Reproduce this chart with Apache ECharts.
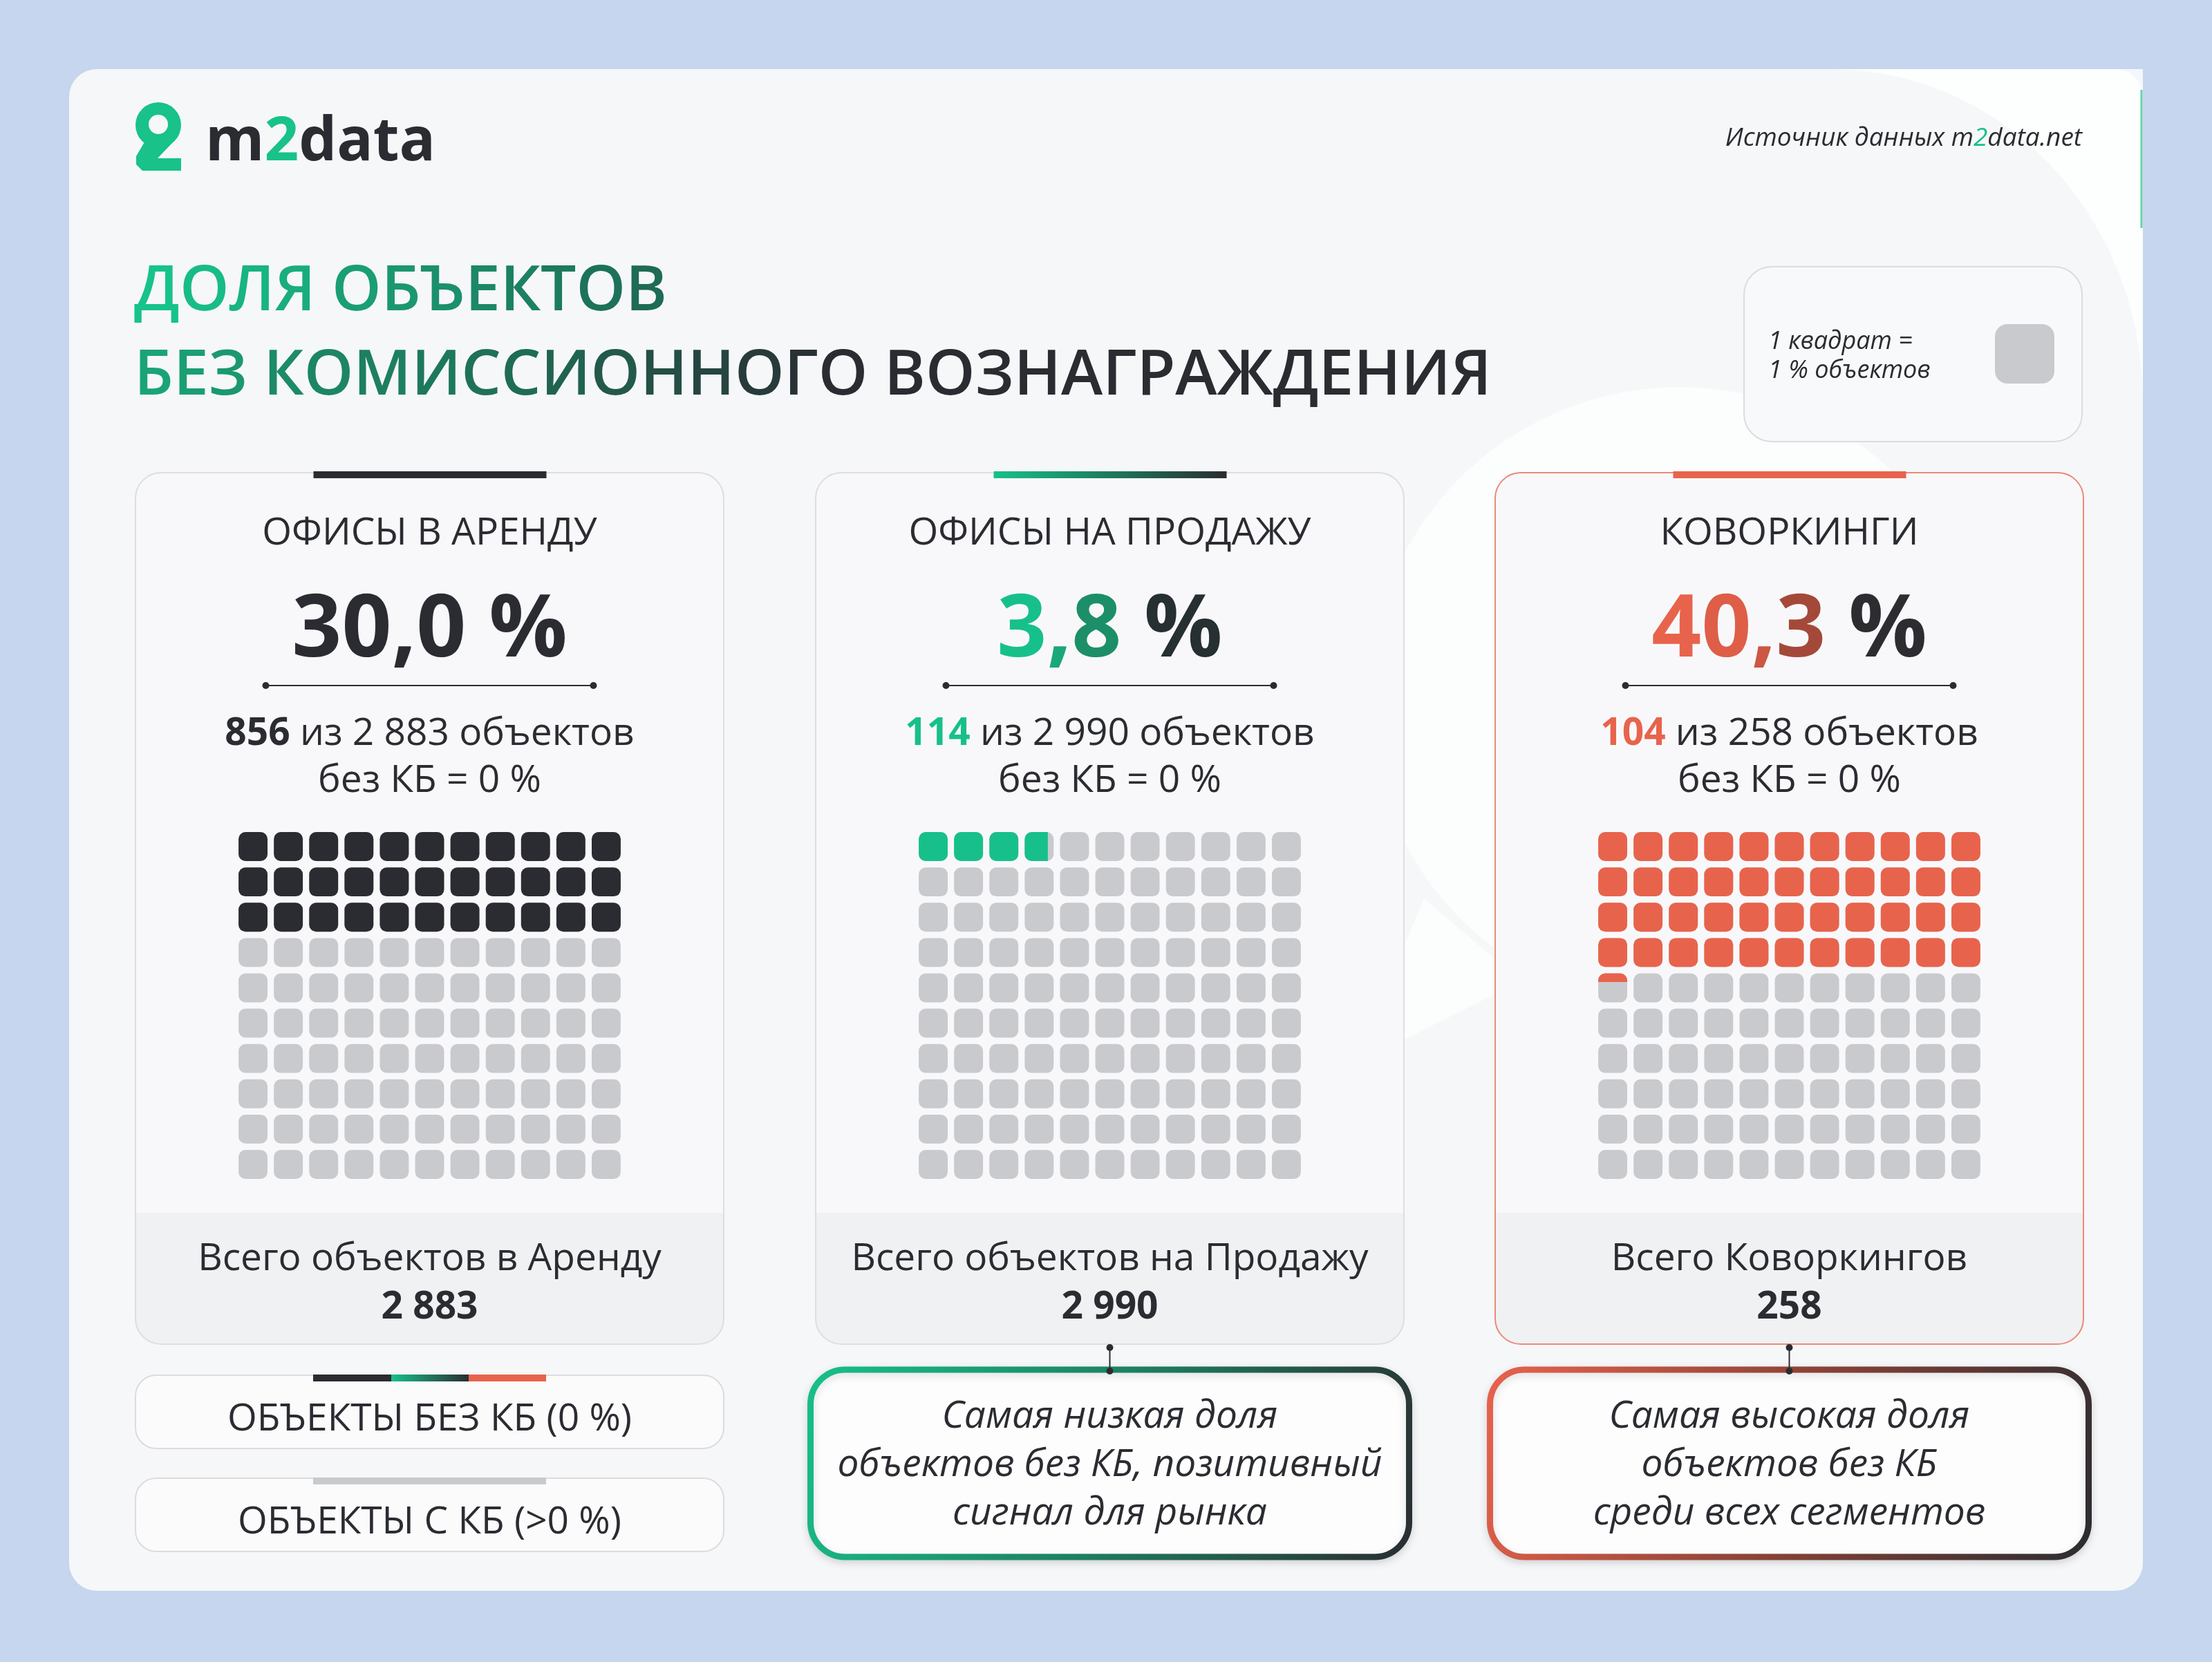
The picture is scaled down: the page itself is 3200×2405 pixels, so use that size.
<!DOCTYPE html>
<html>
<head>
<meta charset="utf-8">
<script src="https://cdn.jsdelivr.net/npm/echarts@6/dist/echarts.min.js"></script>
<style>
html,body{margin:0;padding:0;background:#c6d6ee;}
#chart{width:3200px;height:2405px;}
</style>
</head>
<body>
<div id="chart"></div>
<script>
// данные
var segments = ['ОФИСЫ В АРЕНДУ', 'ОФИСЫ НА ПРОДАЖУ', 'КОВОРКИНГИ'];
var sharePct = [30.0, 3.8, 40.3];
var freeCount = [856, 114, 104];
var totalCount = [2883, 2990, 258];
var totalLabels = ['Всего объектов в Аренду', 'Всего объектов на Продажу', 'Всего Коворкингов'];
// закрашенные квадраты (как на картинке: целые + доля последнего)
var fullSquares = [33, 3, 44];
var partFill = [0, 0.8, 0.3];
var partDir = [0, 0, 1]; // 0 - по горизонтали, 1 - по вертикали
var gridCols = ['1', '2', '3', '4', '5', '6', '7', '8', '9', '10', '11'];
var gridRows = ['1', '2', '3', '4', '5', '6', '7', '8', '9', '10'];
var noteLow = ['Самая низкая доля', 'объектов без КБ, позитивный', 'сигнал для рынка'];
var noteHigh = ['Самая высокая доля', 'объектов без КБ', 'среди всех сегментов'];
var legendLabels = ['ОБЪЕКТЫ БЕЗ КБ (0 %)', 'ОБЪЕКТЫ С КБ (>0 %)'];

var FONT = '"Open Sans", "Noto Sans", sans-serif';
var DARK = '#2a2c31', GREEN = '#17c08a', CORAL = '#e8634c', GREY = '#c9cace';
var accent = [DARK, GREEN, CORAL];

var panelX = [196, 1180, 2163];
var panelW = 851;
var panelTop = 684, panelBottom = 1945, bandTop = 1755;

function fmtInt(n) {
	return String(n).replace(/\B(?=(\d{3})+(?!\d))/g, ' ');
}
function fmtPct(v) {
	return v.toFixed(1).replace('.', ',') + ' %';
}
function grad(x2, y2, stops) {
	return new echarts.graphic.LinearGradient(0, 0, x2, y2, stops.map(function (c, i) {
		return {offset: i / (stops.length - 1), color: c};
	}));
}
function hex(c) {
	return [parseInt(c.substr(1, 2), 16), parseInt(c.substr(3, 2), 16), parseInt(c.substr(5, 2), 16)];
}
// цвет в точке t по списку [offset, color]
function mix(stops, t) {
	for (var k = 1; k < stops.length; k++) {
		if (t <= stops[k][0] || k === stops.length - 1) {
			var a = hex(stops[k - 1][1]), b = hex(stops[k][1]);
			var u = Math.max(0, Math.min(1, (t - stops[k - 1][0]) / (stops[k][0] - stops[k - 1][0])));
			return 'rgb(' + a.map(function (v, j) { return Math.round(v + (b[j] - v) * u); }).join(',') + ')';
		}
	}
}
// градиентный текст посимвольно (rich)
function gradText(str, stops, base) {
	var rich = {}, out = '';
	var n = str.length;
	for (var i = 0; i < n; i++) {
		var st = {};
		for (var key in base) st[key] = base[key];
		st.fill = mix(stops, n > 1 ? i / (n - 1) : 0);
		rich['c' + i] = st;
		out += '{c' + i + '|' + str.charAt(i) + '}';
	}
	return {text: out, rich: rich};
}

var chart = echarts.init(document.getElementById('chart'), null, {renderer: 'canvas'});

var g = [];

// карточка
g.push({type: 'rect', shape: {x: 100, y: 100, width: 3000, height: 2202, r: 40}, style: {fill: '#f6f7f9'}});
// фоновые белые формы
var corner = [[3100, 100]];
for (var t = 0; t <= 20; t++) {
	var a = t / 20;
	corner.push([2650 + 450 * Math.sin(a * Math.PI / 2), 100 + 480 * (1 - Math.cos(a * Math.PI / 2))]);
}
g.push({type: 'polygon', shape: {points: corner}, style: {fill: 'rgba(255,255,255,0.8)'}});
g.push({type: 'circle', shape: {cx: 2430, cy: 1010, r: 450}, style: {fill: 'rgba(255,255,255,0.7)'}});
g.push({type: 'polygon', shape: {points: [[2060, 1300], [1960, 1540], [2200, 1420]]}, style: {fill: 'rgba(255,255,255,0.7)'}});
g.push({type: 'line', shape: {x1: 3098, y1: 130, x2: 3098, y2: 330}, style: {stroke: '#5fd3a6', lineWidth: 3}});

// логотип
g.push({type: 'circle', shape: {cx: 229, cy: 181, r: 33}, style: {fill: '#18c289'}});
g.push({type: 'polygon', shape: {points: [[210, 204], [250, 206], [228, 229], [262, 229], [262, 247], [206, 247], [197, 238], [197, 226]]}, style: {fill: '#18c289'}});
g.push({type: 'circle', shape: {cx: 229, cy: 180, r: 14}, style: {fill: '#f6f7f9'}});
g.push({type: 'text', x: 297, y: 207, style: {
	text: '{d|m}{g|2}{d|data}', verticalAlign: 'middle',
	rich: {
		d: {fontFamily: FONT, fontWeight: 'bold', fontSize: 87, fill: DARK},
		g: {fontFamily: FONT, fontWeight: 'bold', fontSize: 87, fill: '#18c289'}
	}
}});
g.push({type: 'text', x: 3012, y: 200, style: {
	text: '{n|Источник данных m}{g|2}{n|data.net}', align: 'right', verticalAlign: 'middle',
	rich: {
		n: {fontFamily: FONT, fontStyle: 'italic', fontSize: 37, fill: DARK},
		g: {fontFamily: FONT, fontStyle: 'italic', fontSize: 37, fill: GREEN}
	}
}});

// заголовок
var titleBase = {fontFamily: FONT, fontWeight: 600, fontSize: 91};
var t1 = gradText('ДОЛЯ ОБЪЕКТОВ', [[0, '#17c38a'], [1, '#1e6b56']], titleBase);
var t2 = gradText('БЕЗ КОМИССИОННОГО ВОЗНАГРАЖДЕНИЯ', [[0, '#1aa475'], [0.3, '#1f6a55'], [0.5, DARK], [1, DARK]], titleBase);
g.push({type: 'text', x: 194, y: 423, style: {text: t1.text, rich: t1.rich, verticalAlign: 'middle'}});
g.push({type: 'text', x: 194, y: 545, style: {text: t2.text, rich: t2.rich, verticalAlign: 'middle'}});

// подсказка
g.push({type: 'rect', shape: {x: 2523, y: 386, width: 489, height: 253, r: 40}, style: {fill: '#f8f9fa', stroke: '#dcdcdf', lineWidth: 2}});
g.push({type: 'text', x: 2558, y: 495, style: {text: '1 квадрат =', fontFamily: FONT, fontStyle: 'italic', fontSize: 36, fill: DARK, verticalAlign: 'middle'}});
g.push({type: 'text', x: 2558, y: 537, style: {text: '1 % объектов', fontFamily: FONT, fontStyle: 'italic', fontSize: 36, fill: DARK, verticalAlign: 'middle'}});
g.push({type: 'rect', shape: {x: 2886, y: 469, width: 86, height: 86, r: 18}, style: {fill: GREY}});

// панели
var pctStops = [
	[[0, DARK], [1, DARK]],
	[[0, GREEN], [0.5, '#1c8f68'], [1, '#262f31']],
	[[0, CORAL], [0.35, '#d65a45'], [0.65, '#9a4538'], [1, '#2c2c31']]
];
var barFill = [DARK, grad(1, 0, [GREEN, '#1e7a5c', DARK]), CORAL];
var pctBase = {fontFamily: FONT, fontWeight: 'bold', fontSize: 126};
segments.forEach(function (name, i) {
	var x0 = panelX[i], cx = x0 + panelW / 2;
	var stroke = i === 2 ? '#ec8a78' : '#dedee1';
	g.push({type: 'rect', shape: {x: x0, y: panelTop, width: panelW, height: panelBottom - panelTop, r: 37}, style: {fill: '#f8f8fa'}});
	g.push({type: 'rect', shape: {x: x0, y: bandTop, width: panelW, height: panelBottom - bandTop, r: [0, 0, 37, 37]}, style: {fill: '#f0f1f3'}});
	g.push({type: 'rect', shape: {x: x0, y: panelTop, width: panelW, height: panelBottom - panelTop, r: 37}, style: {fill: 'none', stroke: stroke, lineWidth: 2}});
	g.push({type: 'rect', shape: {x: cx - 168, y: panelTop - 2, width: 337, height: 10}, style: {fill: barFill[i]}});

	g.push({type: 'text', x: cx, y: 772, style: {text: name, fontFamily: FONT, fontSize: 55, fill: DARK, align: 'center', verticalAlign: 'middle'}});
	var pt = gradText(fmtPct(sharePct[i]), pctStops[i], pctBase);
	g.push({type: 'text', x: cx, y: 914, style: {text: pt.text, rich: pt.rich, align: 'center', verticalAlign: 'middle'}});
	g.push({type: 'line', shape: {x1: cx - 237, y1: 992, x2: cx + 237, y2: 992}, style: {stroke: DARK, lineWidth: 2}});
	g.push({type: 'circle', shape: {cx: cx - 237, cy: 992, r: 5}, style: {fill: DARK}});
	g.push({type: 'circle', shape: {cx: cx + 237, cy: 992, r: 5}, style: {fill: DARK}});
	g.push({type: 'text', x: cx, y: 1062, style: {
		text: '{b|' + fmtInt(freeCount[i]) + '}{n| из ' + fmtInt(totalCount[i]) + ' объектов}',
		align: 'center', verticalAlign: 'middle',
		rich: {
			b: {fontFamily: FONT, fontWeight: 'bold', fontSize: 55, fill: i === 0 ? DARK : accent[i]},
			n: {fontFamily: FONT, fontSize: 55, fill: DARK}
		}
	}});
	g.push({type: 'text', x: cx, y: 1130, style: {text: 'без КБ = 0 %', fontFamily: FONT, fontSize: 55, fill: DARK, align: 'center', verticalAlign: 'middle'}});
	g.push({type: 'text', x: cx, y: 1822, style: {text: totalLabels[i], fontFamily: FONT, fontSize: 55, fill: DARK, align: 'center', verticalAlign: 'middle'}});
	g.push({type: 'text', x: cx, y: 1892, style: {text: fmtInt(totalCount[i]), fontFamily: FONT, fontWeight: 'bold', fontSize: 55, fill: DARK, align: 'center', verticalAlign: 'middle'}});
});

// легенда внизу слева
[1990, 2139].forEach(function (y, k) {
	g.push({type: 'rect', shape: {x: 196, y: y, width: 851, height: 106, r: 30}, style: {fill: '#fbfbfc', stroke: '#dcdcdf', lineWidth: 2}});
	if (k === 0) {
		g.push({type: 'rect', shape: {x: 453, y: y - 1, width: 113, height: 10}, style: {fill: DARK}});
		g.push({type: 'rect', shape: {x: 566, y: y - 1, width: 112, height: 10}, style: {fill: grad(1, 0, [GREEN, DARK])}});
		g.push({type: 'rect', shape: {x: 678, y: y - 1, width: 112, height: 10}, style: {fill: CORAL}});
	} else {
		g.push({type: 'rect', shape: {x: 453, y: y - 1, width: 337, height: 10}, style: {fill: GREY}});
	}
	g.push({type: 'text', x: 621.5, y: y + 64, style: {text: legendLabels[k], fontFamily: FONT, fontSize: 55, fill: DARK, align: 'center', verticalAlign: 'middle'}});
});

// выноски
[[1, noteLow, [GREEN, '#1d7f5f', DARK]], [2, noteHigh, [CORAL, '#8a4236', DARK]]].forEach(function (d) {
	var i = d[0], cx = panelX[i] + panelW / 2;
	g.push({type: 'rect', shape: {x: cx - 433, y: 1982, width: 866, height: 271, r: 50}, style: {
		fill: '#fdfdfe', stroke: grad(1, 1, d[2]), lineWidth: 9,
		shadowBlur: 12, shadowColor: 'rgba(0,0,0,0.12)', shadowOffsetY: 4
	}});
	g.push({type: 'line', shape: {x1: cx, y1: 1947, x2: cx, y2: 1984}, style: {stroke: DARK, lineWidth: 2}});
	g.push({type: 'circle', shape: {cx: cx, cy: 1950, r: 5}, style: {fill: DARK}});
	g.push({type: 'circle', shape: {cx: cx, cy: 1984, r: 5}, style: {fill: DARK}});
	d[1].forEach(function (t, j) {
		g.push({type: 'text', x: cx, y: 2050 + j * 70, style: {text: t, fontFamily: FONT, fontStyle: 'italic', fontSize: 55, fill: DARK, align: 'center', verticalAlign: 'middle'}});
	});
});

// квадраты
function cellData(p) {
	var out = [];
	for (var r = 0; r < gridRows.length; r++) {
		for (var c = 0; c < gridCols.length; c++) {
			var idx = r * gridCols.length + c;
			var f = idx < fullSquares[p] ? 1 : (idx === fullSquares[p] ? partFill[p] : 0);
			out.push([c, r, f, partDir[p]]);
		}
	}
	return out;
}

function renderCell(params, api) {
	var pt = api.coord([api.value(0), api.value(1)]);
	var band = api.size([1, 1]);
	var s = band[0] * 0.82, rad = s * 0.24;
	var x = pt[0] - s / 2, y = pt[1] - s / 2;
	var f = api.value(2), col = accent[params.seriesIndex];
	var kids = [{type: 'rect', shape: {x: x, y: y, width: s, height: s, r: rad}, style: {fill: GREY}}];
	if (f >= 1) {
		kids.push({type: 'rect', shape: {x: x, y: y, width: s, height: s, r: rad}, style: {fill: col}});
	} else if (f > 0) {
		if (api.value(3) === 0) {
			kids.push({type: 'rect', shape: {x: x, y: y, width: s * f, height: s, r: [rad, 0, 0, rad]}, style: {fill: col}});
		} else {
			kids.push({type: 'rect', shape: {x: x, y: y, width: s, height: s * f, r: [rad, rad, 0, 0]}, style: {fill: col}});
		}
	}
	return {type: 'group', children: kids};
}

var grids = [], xs = [], ys = [], series = [];
segments.forEach(function (name, p) {
	var cx = panelX[p] + panelW / 2;
	grids.push({left: cx - 281, top: 1199.5, width: 562, height: 511});
	xs.push({type: 'category', gridIndex: p, data: gridCols, show: false});
	ys.push({type: 'category', gridIndex: p, data: gridRows, inverse: true, show: false});
	series.push({
		name: name, type: 'custom', xAxisIndex: p, yAxisIndex: p,
		renderItem: renderCell, data: cellData(p), z: 5
	});
});

chart.setOption({
	backgroundColor: '#c6d6ee',
	animation: false,
	graphic: {elements: g},
	grid: grids,
	xAxis: xs,
	yAxis: ys,
	series: series
});
</script>
</body>
</html>
